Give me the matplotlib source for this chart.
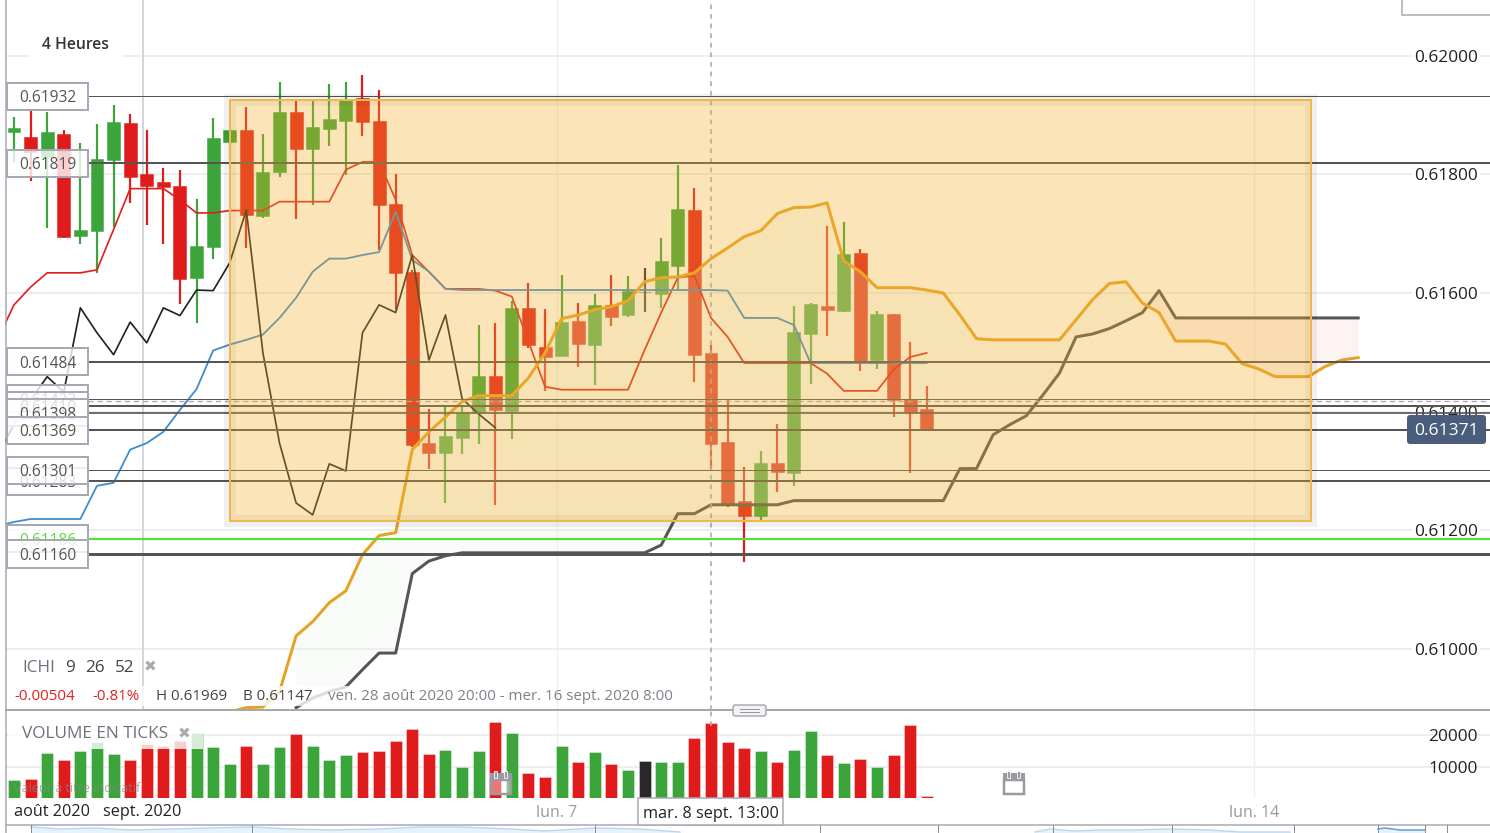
#!/usr/bin/env python3
# -*- coding: utf-8 -*-

##-Imports
import numpy as np
import matplotlib
matplotlib.use('Agg')
import matplotlib.pyplot as plt
from matplotlib.patches import Rectangle, FancyBboxPatch

plt.rcParams['font.family'] = ['Open Sans', 'DejaVu Sans']

##-Data (prices in 1e-5 units, one value per 4h candle)
opens = [61872, 61863, 61830, 61868, 61696, 61705, 61825, 61887, 61801, 61788,
         61781, 61626, 61678, 61855, 61875, 61730, 61804, 61906, 61843, 61877,
         61890, 61929, 61890, 61750, 61636, 61347, 61331, 61356, 61398, 61460,
         61401, 61575, 61509, 61494, 61553, 61513, 61580, 61563, 61602, 61599,
         61646, 61740, 61499, 61349, 61250, 61224, 61314, 61297, 61531, 61578,
         61570, 61668, 61487, 61565, 61422, 61405]
highs = [61897, 61909, 61906, 61875, 61853, 61885, 61917, 61902, 61875, 61811,
         61808, 61759, 61895, 61875, 61914, 61868, 61956, 61924, 61926, 61953,
         61956, 61968, 61943, 61801, 61639, 61405, 61411, 61411, 61546, 61550,
         61587, 61617, 61573, 61631, 61583, 61599, 61631, 61629, 61643, 61693,
         61815, 61777, 61513, 61420, 61307, 61334, 61379, 61578, 61583, 61713,
         61720, 61675, 61570, 61565, 61518, 61444]
lows = [61821, 61789, 61710, 61693, 61683, 61634, 61712, 61752, 61715, 61683,
        61582, 61550, 61658, 61825, 61676, 61727, 61796, 61725, 61749, 61848,
        61799, 61865, 61673, 61572, 61341, 61304, 61246, 61329, 61346, 61243,
        61354, 61508, 61435, 61494, 61476, 61445, 61545, 61560, 61568, 61575,
        61605, 61450, 61304, 61239, 61147, 61216, 61265, 61275, 61447, 61528,
        61568, 61469, 61472, 61391, 61297, 61371]
closes = [61879, 61838, 61872, 61695, 61707, 61826, 61889, 61796, 61781, 61779,
          61624, 61680, 61862, 61875, 61732, 61804, 61906, 61843, 61880, 61894,
          61927, 61889, 61749, 61634, 61344, 61331, 61359, 61398, 61460, 61403,
          61575, 61513, 61492, 61551, 61514, 61580, 61560, 61604, 61602, 61654,
          61742, 61496, 61346, 61243, 61224, 61314, 61298, 61535, 61582, 61572,
          61666, 61484, 61565, 61420, 61400, 61371]
volumes = [5820, 6140, 14290, 11960, 14810, 17780, 14070, 12170, 17250, 16400,
           18100, 20630, 16190, 10900, 16610, 10690, 16190, 20210, 16400, 12170,
           13650, 14500, 14920, 18200, 21800, 13970, 15130, 9950, 15030, 24230,
           20740, 8040, 6560, 16400, 11530, 14500, 10790, 8990, 11640, 11320,
           11530, 18940, 23700, 17880, 15770, 15030, 11430, 15130, 21270, 13550,
           11010, 12280, 9840, 13760, 23280, 630]

# Ichimoku lines, each with the candle index of its first point
tenkan_start = -1
tenkan = [61521, 61580, 61610, 61634, 61634, 61634, 61639, 61707, 61776, 61776,
          61776, 61757, 61735, 61735, 61739, 61739, 61739, 61754, 61754, 61754,
          61754, 61808, 61821, 61821, 61757, 61664, 61636, 61607, 61607, 61607,
          61604, 61594, 61518, 61442, 61437, 61437, 61437, 61437, 61437, 61504,
          61567, 61626, 61629, 61558, 61526, 61482, 61482, 61482, 61482, 61482,
          61464, 61435, 61435, 61435, 61471, 61492, 61499]
kijun_start = -1
kijun = [61207, 61214, 61219, 61219, 61219, 61219, 61275, 61280, 61336, 61347,
         61366, 61403, 61438, 61503, 61513, 61521, 61530, 61558, 61592, 61636,
         61658, 61658, 61664, 61669, 61737, 61656, 61636, 61607, 61605, 61605,
         61605, 61605, 61605, 61605, 61605, 61605, 61605, 61605, 61605, 61605,
         61605, 61605, 61605, 61605, 61604, 61558, 61558, 61558, 61546, 61482,
         61482, 61482, 61482, 61482, 61482, 61482, 61482]
chikou_start = -1
chikou = [61327, 61378, 61420, 61459, 61433, 61575, 61533, 61496, 61551, 61516,
          61575, 61562, 61605, 61604, 61651, 61740, 61499, 61347, 61246, 61226,
          61312, 61300, 61533, 61580, 61567, 61664, 61487, 61563, 61422, 61396,
          61373]
span_a_start = 13
span_a = [60894, 60901, 60902, 60928, 61022, 61046, 61078, 61098, 61159, 61191,
          61196, 61336, 61366, 61391, 61417, 61427, 61427, 61427, 61457, 61499,
          61557, 61563, 61572, 61577, 61587, 61619, 61626, 61627, 61634, 61658,
          61676, 61695, 61705, 61734, 61744, 61745, 61752, 61654, 61636, 61609,
          61609, 61609, 61605, 61600, 61563, 61523, 61521, 61521, 61521, 61521,
          61521, 61555, 61589, 61616, 61619, 61583, 61567, 61519, 61519, 61519,
          61514, 61481, 61472, 61459, 61459, 61459, 61476, 61487, 61491]
span_b_start = 17
span_b = [60901, 60917, 60928, 60936, 60965, 60993, 60993, 61127, 61148, 61157,
          61162, 61162, 61162, 61162, 61162, 61162, 61162, 61162, 61162, 61162,
          61162, 61162, 61175, 61228, 61228, 61243, 61243, 61243, 61243, 61243,
          61250, 61250, 61250, 61250, 61250, 61250, 61250, 61250, 61250, 61250,
          61304, 61304, 61361, 61378, 61393, 61428, 61465, 61526, 61531, 61540,
          61553, 61567, 61604, 61558, 61558, 61558, 61558, 61558, 61558, 61558,
          61558, 61558, 61558, 61558, 61558]

# Horizontal levels, in the order their labels stack
level_values = [0.61932, 0.61819, 0.61484, 0.61422, 0.61410, 0.61398, 0.61369,
                0.61283, 0.61301, 0.61186, 0.61160]
level_widths = [1, 2, 2, 1, 2, 1.7, 2, 2, 1, 2.2, 3]
level_colors = ['#555555'] * 9 + ['#5cdb3c', '#555555']
level_text = ['#555555'] * 9 + ['#5cdb3c', '#555555']

price_ticks = [0.61000, 0.61200, 0.61400, 0.61600, 0.61800, 0.62000]
volume_ticks = [10000, 20000]
day_ticks = [32.7, 74.7]
day_labels = ['lun. 7', 'lun. 14']
month_tick = 7.77
crosshair_index = 42
crosshair_price = 0.61418
last_price = '0.61371'

# Faint navigator curve at the very bottom
nav_x = [31, 60, 95, 130, 170, 210, 252, 290, 330, 380, 420, 460, 510, 545, 595, 640, 680]
nav_y = [827, 829, 828, 830, 829, 828, 827, 829, 830, 829, 827, 827, 829, 831, 828, 829, 832]
nav_x2 = [1035, 1050, 1075, 1100, 1130, 1170, 1210, 1240, 1290]
nav_y2 = [832, 829, 831, 830, 830, 829, 830, 832, 832]
nav_x3 = [1378, 1385, 1400, 1425]
nav_y3 = [829, 828, 830, 830]
nav_ticks = [31, 252, 595, 820, 938, 1053, 1172, 1294, 1378, 1425, 1447]


##-Helpers
def px(n):
    '''Line width given in pixels, back to points.'''
    return n * 0.72


def to_price(values):
    return np.array(values) / 1e5


def line_x(start, values):
    return np.arange(start, start + len(values))


##-Figure
W, H = 1490, 833
fig = plt.figure(figsize=(W / 100, H / 100), dpi=100)
fig.patch.set_facecolor('white')

ax = fig.add_axes([0, (H - 710) / H, 1, 710 / H])
vol = fig.add_axes([0, (H - 798) / H, 1, 87 / H], sharex=ax)
chrome = fig.add_axes([0, 0, 1, 1])

o = to_price(opens)
h = to_price(highs)
l = to_price(lows)
c = to_price(closes)
idx = np.arange(len(o))

GREEN = '#3ba53b'
RED = '#e01b1b'
DOJI = '#282828'
candle_colors = [GREEN if c[i] > o[i] else RED if c[i] < o[i] else DOJI for i in idx]

#---Axes dressing
for a in (ax, vol):
    for s in a.spines.values():
        s.set_visible(False)
    a.patch.set_alpha(0)
    a.yaxis.grid(True, color='#eeeeee', lw=px(2))
    a.set_axisbelow(True)

ax.set_yticks(price_ticks)
ax.set_yticklabels([f'{t:.5f}' for t in price_ticks])
ax.tick_params(axis='y', length=0, right=True, left=False, labelright=True, labelleft=False,
               pad=-px(76), labelsize=12.4, labelcolor='#222222')
ax.tick_params(axis='x', length=0, labelbottom=False)
for label in ax.get_yticklabels():
    label.set_horizontalalignment('left')
    label.set_bbox(dict(fc='white', ec='none', pad=1.5))

vol.set_yticks(volume_ticks)
vol.set_yticklabels([str(t) for t in volume_ticks])
vol.tick_params(axis='y', length=0, right=True, left=False, labelright=True, labelleft=False,
                pad=-px(62), labelsize=12.4, labelcolor='#222222')
for label in vol.get_yticklabels():
    label.set_horizontalalignment('left')
vol.set_xticks(day_ticks)
vol.set_xticklabels(day_labels)
vol.tick_params(axis='x', length=0, pad=5, labelsize=11.5, labelcolor='#999999')

for a in (ax, vol):
    for t in day_ticks:
        a.axvline(t, color='#eeeeee', lw=px(1.2), zorder=0.8)
ax.axvline(month_tick, color='#d5d5de', lw=px(2), zorder=0.8)

#---Candles
ax.vlines(idx, l, h, colors=candle_colors, lw=px(2.2), zorder=2)
ax.bar(idx, c - o, bottom=o, width=0.78, color=candle_colors, edgecolor=candle_colors,
       lw=px(0.5), zorder=2.1)

#---Cloud, over the candles
span_a_p = to_price(span_a)
span_b_p = to_price(span_b)
cloud_x = line_x(span_b_start, span_b)
a_on_b = span_a_p[span_b_start - span_a_start:]
ax.fill_between(cloud_x, a_on_b, span_b_p, where=a_on_b >= span_b_p, interpolate=True,
                color='#e2f0e2', alpha=0.24, lw=0, zorder=3)
ax.fill_between(cloud_x, a_on_b, span_b_p, where=a_on_b <= span_b_p, interpolate=True,
                color='#f8d0d0', alpha=0.24, lw=0, zorder=3)

#---Ichimoku lines
ax.plot(line_x(tenkan_start, tenkan), to_price(tenkan), color='#e02020', lw=px(1.7), zorder=4)
ax.plot(line_x(kijun_start, kijun), to_price(kijun), color='#3d8bd0', lw=px(1.8), zorder=4)
ax.plot(line_x(chikou_start, chikou), to_price(chikou), color='#222222', lw=px(1.7), zorder=4)
ax.plot(line_x(span_a_start, span_a), span_a_p, color='#e6a227', lw=px(3), zorder=4.2)
ax.plot(line_x(span_b_start, span_b), span_b_p, color='#555555', lw=px(3), zorder=4.1)

ax.set_xlim((0 - 14) / 16.595, (W - 14) / 16.595)
ax.set_ylim(0.60897, 0.62094)
vol.set_ylim(0, 27620)

#---Levels and their labels
box_left = (7 - 14) / 16.595
box_right = (88 - 14) / 16.595
box_h = 27 / 59300
for n, val in enumerate(level_values):
    ax.hlines(val, box_right, ax.get_xlim()[1], color=level_colors[n], lw=px(level_widths[n]), zorder=4.5)
    ax.add_patch(Rectangle((box_left, val - box_h / 2), box_right - box_left, box_h,
                           fc=(1, 1, 1, 0.8), ec='#a8a8b4', lw=px(2), zorder=10 + n))
    ax.text((box_left + box_right) / 2, val, f'{val:.5f}', ha='center', va='center_baseline',
            fontsize=11.2, color=level_text[n], zorder=10 + n)

# Crosshair
ax.hlines(crosshair_price, box_right, ax.get_xlim()[1], color='#a8a8b4', lw=px(1.3),
          ls=(0, (4, 3)), zorder=4.4)
ax.axvline(crosshair_index, color='#a8a8b4', lw=px(1.6), ls=(0, (3, 3)), zorder=4.4)
vol.vlines(crosshair_index, 23000, 27620, color='#a8a8b4', lw=px(1.6), ls=(0, (3, 3)), zorder=4.4)

#---Orange selection box, over everything in the chart
x0, x1 = (230 - 14) / 16.595, (1311 - 14) / 16.595
y0, y1 = 0.61216, 0.61926
ax.add_patch(Rectangle((x0, y0), x1 - x0, y1 - y0, fc='none', ec=(0, 0, 0, 0.06), lw=px(12), zorder=6))
ax.add_patch(Rectangle((x0, y0), x1 - x0, y1 - y0, fc=(0.953, 0.69, 0.157, 0.33), ec='none', zorder=6.1))
ax.add_patch(Rectangle((x0, y0), x1 - x0, y1 - y0, fc='none', ec='#f0b84a', lw=px(2), zorder=6.2))

#---Volume bars
vol.bar(idx, volumes, width=0.72, color=candle_colors, edgecolor=(1, 1, 1, 0.35), lw=px(1), zorder=2)

##-Chrome, drawn in pixels of the picture
chrome.set_xlim(0, W)
chrome.set_ylim(H, 0)
chrome.axis('off')
chrome.patch.set_alpha(0)

BORDER = '#a8a8b4'


def box(x, y, w, h, **kw):
    chrome.add_patch(Rectangle((x, y), w, h, **kw))


# left margin and frame
box(0, 0, 5, H, fc='white', ec='none', zorder=1)
chrome.plot([5.5, 5.5], [0, H], color=BORDER, lw=px(1.5), zorder=2)
chrome.plot([6, W], [710, 710], color='#a9a9a3', lw=px(2), zorder=2)
chrome.plot([6, W], [825, 825], color=BORDER, lw=px(1.5), zorder=2)
chrome.plot([1402, 1402, W], [0, 15, 15], color=BORDER, lw=px(1.5), zorder=2)

# handle between the panels
chrome.add_patch(FancyBboxPatch((733, 705), 33, 11, boxstyle='round,pad=0,rounding_size=2.5',
                                fc='#f3f3f5', ec=BORDER, lw=px(1.5), zorder=3))
chrome.plot([740, 759], [708.5, 708.5], color='#999999', lw=px(1), zorder=4)
chrome.plot([740, 759], [712, 712], color='#999999', lw=px(1), zorder=4)

# period label
box(30, 53, 92, 6, fc='white', ec='none', zorder=1)
chrome.text(42, 44.5, '4 Heures', fontsize=11.3, fontweight='semibold', color='#333333',
            va='center', ha='left')

# Ichimoku legend
box(8, 686, 342, 20, fc=(1, 1, 1, 0.8), ec='none', zorder=1)
for x, txt, col in [(22, 'ICHI', '#70707c'), (65, '9', '#444444'), (85, '26', '#444444'), (115, '52', '#444444')]:
    chrome.text(x, 667.5, txt, fontsize=12.3, color=col, va='center', ha='left', zorder=3)
chrome.text(150, 666.5, '✖', fontsize=11, family='DejaVu Sans', color='#aaaab2',
            va='center', ha='center', zorder=3)
for x, txt, col in [(14, '-0.00504', '#e02020'), (92, '-0.81%', '#e02020'), (156, 'H 0.61969', '#444444'),
                    (243, 'B 0.61147', '#444444'),
                    (328, 'ven. 28 août 2020 20:00 - mer. 16 sept. 2020 8:00', '#80808a')]:
    chrome.text(x, 697, txt, fontsize=10.9, color=col, va='center', ha='left', zorder=3)

# volume legend
box(8, 712, 195, 37, fc=(1, 1, 1, 0.8), ec='none', zorder=1)
chrome.text(22, 734.5, 'VOLUME EN TICKS', fontsize=12.4, color='#70707c', va='center', ha='left', zorder=3)
chrome.text(184, 733.5, '✖', fontsize=11, family='DejaVu Sans', color='#aaaab2',
            va='center', ha='center', zorder=3)
chrome.text(14, 788, 'Valeur à titre indicatif', fontsize=9, color='#888888', alpha=0.7, va='center',
            ha='left', zorder=3)

# month labels and hover date
chrome.text(14, 812.5, 'août 2020', fontsize=11.7, color='#222222', va='center', ha='left')
chrome.text(103, 812.5, 'sept. 2020', fontsize=11.7, color='#222222', va='center', ha='left')
box(638, 798, 145, 27, fc='white', ec=BORDER, lw=px(1.5), zorder=5)
chrome.text(710.5, 813.5, 'mar. 8 sept. 13:00', fontsize=11.7, color='#222222', va='center', ha='center', zorder=6)

# calendar icons
for cx, face in [(500.5, (1, 1, 1, 0.4)), (1013.5, 'white')]:
    box(cx - 10, 780, 20, 14, fc=face, ec='#9a9aa2', lw=px(2.5), zorder=3)
    box(cx - 11, 773, 22, 8, fc='#9a9aa2', ec='none', zorder=3)
    box(cx - 6.5, 770.5, 3, 7, fc='#9a9aa2', ec='white', lw=px(0.8), zorder=4)
    box(cx + 3.5, 770.5, 3, 7, fc='#9a9aa2', ec='white', lw=px(0.8), zorder=4)

# last price tag
chrome.add_patch(FancyBboxPatch((1407, 415), 79, 29, boxstyle='round,pad=0,rounding_size=3',
                                fc='#4a5d7c', ec='none', zorder=5))
chrome.text(1446.5, 431, last_price, fontsize=12.6, color='white', va='center', ha='center', zorder=6)

# navigator
for xs, ys, col in [(nav_x, nav_y, '#bcd8ef'), (nav_x2, nav_y2, '#bcd8ef'), (nav_x3, nav_y3, '#5a9fd8')]:
    chrome.plot(xs, ys, color=col, lw=px(1.5), zorder=2)
    chrome.fill_between(xs, ys, H, color='#e8f2fa', lw=0, zorder=1)
for x in nav_ticks:
    chrome.plot([x, x], [825, H], color='#8c8c98', lw=px(1), zorder=3)

fig.savefig('out.png', dpi=100)
